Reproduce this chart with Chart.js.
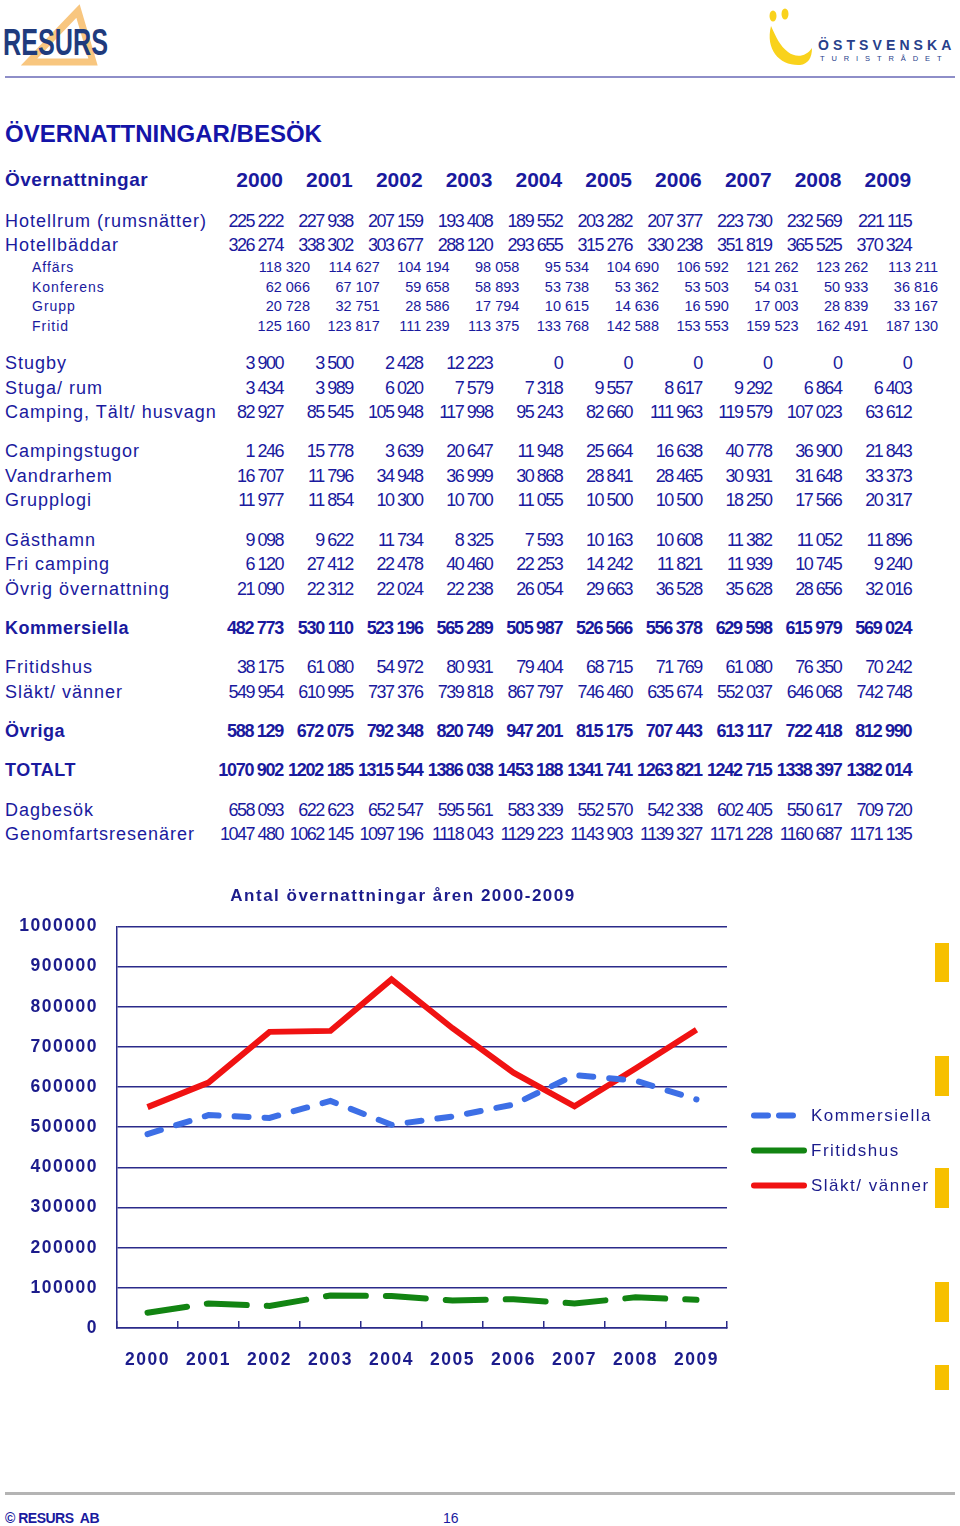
<!DOCTYPE html>
<html>
<head>
<meta charset="utf-8">
<script src="https://cdn.jsdelivr.net/npm/chart.js@4.4.0/dist/chart.umd.min.js"></script>
<style>
body{margin:0;background:#fff;}
#page{position:relative;width:960px;height:1526px;overflow:hidden;background:#fff;
 font-family:"Liberation Sans",Arial,sans-serif;color:#1a1a9e;}
.t{position:absolute;white-space:nowrap;height:22px;line-height:22px;}
.lbl{left:5px;font-size:18px;letter-spacing:1px;}
.lbl.sub{left:32px;font-size:14px;letter-spacing:1px;}
.lbl.bold{font-weight:bold;letter-spacing:0.5px;}
.num{font-size:18px;letter-spacing:-1.5px;text-align:right;}
.num.sub{font-size:14.5px;letter-spacing:0;}
.num.bold{font-weight:bold;letter-spacing:-1.3px;}
.yr{font-size:21px;font-weight:bold;text-align:right;}
.bar{position:absolute;left:935px;width:14px;background:#f7c000;}
#chart{position:absolute;left:-139px;top:870px;}
</style>
</head>
<body>
<div id="page">

<svg style="position:absolute;left:0;top:0" width="960" height="80">
  <polygon points="78,11 29,62 93,62" fill="none" stroke="#f8c67f" stroke-width="7"/>
  <text x="3" y="55" font-family="Liberation Sans" font-weight="bold" font-size="37" fill="#1f3b7d"
        textLength="105" lengthAdjust="spacingAndGlyphs">RESURS</text>
  <ellipse cx="773" cy="16" rx="3.5" ry="5.5" fill="#f9d21c"/>
  <ellipse cx="785" cy="14" rx="3.5" ry="5.5" fill="#f9d21c"/>
  <path d="M771,26 C765,50 780,66 800,65 C808,64 812,58 812,48 C806,57 796,58 788,52 C780,46 776,37 771,26 Z" fill="#f9d21c"/>
  <text x="818" y="50" font-family="Liberation Sans" font-weight="bold" font-size="14" letter-spacing="4.1" fill="#27408b">ÖSTSVENSKA</text>
  <text x="820" y="61" font-family="Liberation Sans" font-size="7.5" letter-spacing="6.9" fill="#27408b">TURISTRÅDET</text>
  <rect x="5" y="76" width="950" height="2" fill="#8e8ec8"/>
</svg>

<div class="t" style="left:5px;top:120px;height:28px;line-height:28px;font-size:24px;font-weight:bold;color:#1414a8;">ÖVERNATTNINGAR/BESÖK</div>

<div id="table"></div>

<canvas id="chart" width="1084" height="530"></canvas>

<div class="bar" style="top:943px;height:39px"></div>
<div class="bar" style="top:1056px;height:40px"></div>
<div class="bar" style="top:1168px;height:40px"></div>
<div class="bar" style="top:1282px;height:40px"></div>
<div class="bar" style="top:1365px;height:25px"></div>

<div style="position:absolute;left:5px;top:1492px;width:950px;height:3px;background:#b4b4b4"></div>
<div class="t" style="left:5px;top:1507px;font-size:14px;font-weight:bold;letter-spacing:-0.5px">© RESURS&nbsp; AB</div>
<div class="t" style="left:443px;top:1507px;font-size:14px">16</div>
</div>

<script>
// --- data ---
var years = ['2000','2001','2002','2003','2004','2005','2006','2007','2008','2009'];

var hotellrum      = [225222, 227938, 207159, 193408, 189552, 203282, 207377, 223730, 232569, 221115];
var hotellbaddar   = [326274, 338302, 303677, 288120, 293655, 315276, 330238, 351819, 365525, 370324];
var affars         = [118320, 114627, 104194, 98058, 95534, 104690, 106592, 121262, 123262, 113211];
var konferens      = [62066, 67107, 59658, 58893, 53738, 53362, 53503, 54031, 50933, 36816];
var grupp          = [20728, 32751, 28586, 17794, 10615, 14636, 16590, 17003, 28839, 33167];
var fritid         = [125160, 123817, 111239, 113375, 133768, 142588, 153553, 159523, 162491, 187130];
var stugby         = [3900, 3500, 2428, 12223, 0, 0, 0, 0, 0, 0];
var stugaRum       = [3434, 3989, 6020, 7579, 7318, 9557, 8617, 9292, 6864, 6403];
var camping        = [82927, 85545, 105948, 117998, 95243, 82660, 111963, 119579, 107023, 63612];
var campingstugor  = [1246, 15778, 3639, 20647, 11948, 25664, 16638, 40778, 36900, 21843];
var vandrarhem     = [16707, 11796, 34948, 36999, 30868, 28841, 28465, 30931, 31648, 33373];
var grupplogi      = [11977, 11854, 10300, 10700, 11055, 10500, 10500, 18250, 17566, 20317];
var gasthamn       = [9098, 9622, 11734, 8325, 7593, 10163, 10608, 11382, 11052, 11896];
var friCamping     = [6120, 27412, 22478, 40460, 22253, 14242, 11821, 11939, 10745, 9240];
var ovrigOvernatt  = [21090, 22312, 22024, 22238, 26054, 29663, 36528, 35628, 28656, 32016];
var kommersiella   = [482773, 530110, 523196, 565289, 505987, 526566, 556378, 629598, 615979, 569024];
var fritidshus     = [38175, 61080, 54972, 80931, 79404, 68715, 71769, 61080, 76350, 70242];
var slaktVanner    = [549954, 610995, 737376, 739818, 867797, 746460, 635674, 552037, 646068, 742748];
var ovriga         = [588129, 672075, 792348, 820749, 947201, 815175, 707443, 613117, 722418, 812990];
var totalt         = [1070902, 1202185, 1315544, 1386038, 1453188, 1341741, 1263821, 1242715, 1338397, 1382014];
var dagbesok       = [658093, 622623, 652547, 595561, 583339, 552570, 542338, 602405, 550617, 709720];
var genomfart      = [1047480, 1062145, 1097196, 1118043, 1129223, 1143903, 1139327, 1171228, 1160687, 1171135];

var yTicks = [0, 100000, 200000, 300000, 400000, 500000, 600000, 700000, 800000, 900000, 1000000];

// table rows (label, values, row centre, style)
var rows = [
  ['Hotellrum (rumsnätter)', hotellrum, 221, ''],
  ['Hotellbäddar', hotellbaddar, 245, ''],
  ['Affärs', affars, 267, 'sub'],
  ['Konferens', konferens, 287, 'sub'],
  ['Grupp', grupp, 306, 'sub'],
  ['Fritid', fritid, 326, 'sub'],
  ['Stugby', stugby, 363, ''],
  ['Stuga/ rum', stugaRum, 388, ''],
  ['Camping, Tält/ husvagn', camping, 412, ''],
  ['Campingstugor', campingstugor, 451, ''],
  ['Vandrarhem', vandrarhem, 476, ''],
  ['Grupplogi', grupplogi, 500, ''],
  ['Gästhamn', gasthamn, 540, ''],
  ['Fri camping', friCamping, 564, ''],
  ['Övrig övernattning', ovrigOvernatt, 589, ''],
  ['Kommersiella', kommersiella, 628, 'bold'],
  ['Fritidshus', fritidshus, 667, ''],
  ['Släkt/ vänner', slaktVanner, 692, ''],
  ['Övriga', ovriga, 731, 'bold'],
  ['TOTALT', totalt, 770, 'bold'],
  ['Dagbesök', dagbesok, 810, ''],
  ['Genomfartsresenärer', genomfart, 834, '']
];

function fmt(n){
  var s = String(n).replace(/\B(?=(\d{3})+(?!\d))/g, ' ');
  if (n >= 1000000) s = s.replace(/^(\d) /, '$1');
  return s;
}

var tbl = document.getElementById('table');
function addDiv(cls, text, css){
  var d = document.createElement('div');
  d.className = 't ' + cls;
  d.textContent = text;
  d.style.cssText = css;
  tbl.appendChild(d);
}

// header row
addDiv('lbl bold', 'Övernattningar', 'top:169px;font-size:19px;');
years.forEach(function(y, i){
  var r = 283 + i * 69.8;
  addDiv('yr', y, 'left:' + (r - 80) + 'px;width:80px;top:169px;');
});

rows.forEach(function(row){
  var top = row[2] - 11;
  addDiv('lbl ' + row[3], row[0], 'top:' + top + 'px;');
  row[1].forEach(function(v, i){
    var r = (row[3] == 'sub' ? 310 : 283) + i * 69.8;
    addDiv('num ' + row[3], fmt(v), 'left:' + (r - 90) + 'px;width:90px;top:' + top + 'px;');
  });
});

// --- chart ---
var navy = '#2b2b8a';
var txt = '#1c1c8c';
Chart.defaults.font.family = '"Liberation Sans", Arial, sans-serif';

var spacing = {
  id: 'spacing',
  beforeDraw: function(chart){ chart.ctx.letterSpacing = '1.5px'; }
};

var sideLegend = {
  id: 'sideLegend',
  afterDraw: function(chart){
    var c = chart.ctx, a = chart.chartArea;
    c.save();
    c.letterSpacing = '1.5px';
    c.font = '17px "Liberation Sans", Arial, sans-serif';
    c.textBaseline = 'middle';
    chart.data.datasets.forEach(function(ds, i){
      var y = a.top + 189 + i * 35;
      var x = a.right + 27;
      c.strokeStyle = ds.borderColor;
      c.lineWidth = 6;
      c.lineCap = 'round';
      c.setLineDash(i == 0 ? [14, 11] : []);
      c.beginPath();
      c.moveTo(x, y);
      c.lineTo(x + 50, y);
      c.stroke();
      c.fillStyle = txt;
      c.fillText(ds.label, x + 57, y + 1);
    });
    c.restore();
  }
};

new Chart(document.getElementById('chart'), {
  type: 'line',
  data: {
    labels: years,
    datasets: [
      { label: 'Kommersiella', data: kommersiella, borderColor: '#3d6fe6', borderWidth: 6,
        borderDash: [14, 16], borderCapStyle: 'round', pointRadius: 0, tension: 0 },
      { label: 'Fritidshus', data: fritidshus, borderColor: '#128412', borderWidth: 6,
        borderDash: [40, 20], borderCapStyle: 'round', pointRadius: 0, tension: 0 },
      { label: 'Släkt/ vänner', data: slaktVanner, borderColor: '#f01212', borderWidth: 6,
        pointRadius: 0, tension: 0 }
    ]
  },
  options: {
    responsive: false,
    animation: false,
    events: [],
    layout: { padding: 0 },
    plugins: {
      legend: { display: false },
      tooltip: { enabled: false },
      title: {
        display: true,
        text: 'Antal övernattningar åren 2000-2009',
        color: txt,
        font: { size: 17, weight: 'bold' },
        padding: { top: 16, bottom: 20 }
      }
    },
    scales: {
      x: {
        offset: true,
        grid: { display: true, offset: true, drawOnChartArea: false, drawTicks: true,
                tickLength: -7, color: navy, lineWidth: 1.5 },
        border: { display: true, color: navy, width: 1.5 },
        ticks: { color: txt, font: { size: 17.5, weight: 'bold' }, padding: 29 },
        afterFit: function(s){ s.height = 72; }
      },
      y: {
        min: 0, max: 1000000,
        afterBuildTicks: function(s){ s.ticks = yTicks.map(function(v){ return { value: v }; }); },
        grid: { color: navy, lineWidth: 1.5, drawTicks: false },
        border: { display: true, color: navy, width: 1.5 },
        ticks: { color: txt, font: { size: 17.5, weight: 'bold' }, padding: 19,
                 callback: function(v){ return String(v); } },
        afterFit: function(s){ s.width = 256; }
      },
      yRight: {
        type: 'linear', position: 'right', display: true,
        grid: { display: false }, ticks: { display: false }, border: { display: false },
        afterFit: function(s){ s.width = 218; }
      }
    }
  },
  plugins: [spacing, sideLegend]
});
</script>
</body>
</html>
